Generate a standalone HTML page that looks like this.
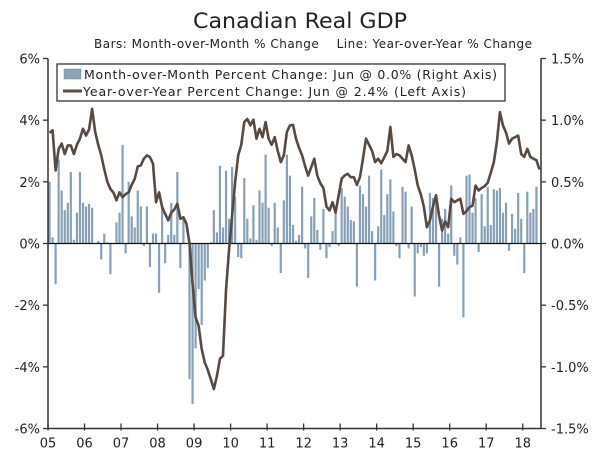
<!DOCTYPE html>
<html><head><meta charset="utf-8">
<style>
html,body{margin:0;padding:0;background:#fff;}
svg{display:block;font-family:"DejaVu Sans","Liberation Sans",sans-serif;}
</style></head>
<body>
<svg id="chart" width="600" height="457" viewBox="0 0 600 457" xmlns="http://www.w3.org/2000/svg">
<text x="193" y="28" textLength="214" lengthAdjust="spacingAndGlyphs" font-size="21" fill="#222">Canadian Real GDP</text>
<text x="94" y="48" textLength="438" font-size="12" fill="#222" xml:space="preserve">Bars: Month-over-Month % Change    Line: Year-over-Year % Change</text>
<g id="bars"></g>
<g id="axes"></g>
<g id="line"></g>
<g>
<rect x="57" y="64" width="448" height="37" fill="#fff" stroke="#333" stroke-width="1.3"/>
<rect x="64" y="69" width="17" height="10" fill="#8aa4b9" stroke="#6f8ca3" stroke-width="0.5"/>
<text x="84" y="79" textLength="413" font-size="12.5" fill="#222">Month-over-Month Percent Change: Jun @ 0.0% (Right Axis)</text>
<line x1="63" y1="91" x2="82" y2="91" stroke="#574a40" stroke-width="3"/>
<text x="83" y="96" textLength="383" font-size="12.5" fill="#222">Year-over-Year Percent Change: Jun @ 2.4% (Left Axis)</text>
</g>
</svg>
<script>
const momValues = [0.5,0.05,-0.33,0.68,0.43,0.27,0.33,0.58,0.03,0.25,0.58,0.33,
0.3,0.32,0.29,0,0.02,-0.13,0.08,0.01,-0.25,0,0.17,0.25,
0.8,-0.08,0.5,0.22,0.13,0.43,0.3,-0.02,0.3,-0.19,0.08,0.08,
-0.4,0.3,-0.16,0.07,0.33,0.07,0.58,-0.2,0.2,0,-1.1,-1.3,
-0.85,-0.37,-0.66,-0.3,-0.2,0.01,0.27,0.09,0.63,0.13,0.59,0.2,
0.62,0.38,-0.11,-0.12,0.53,0.2,0.04,0.31,0.03,0.43,0.33,0.72,
0.29,-0.02,0.33,0.13,-0.24,0.35,0.72,0.55,0.15,0.02,0.07,0.46,
-0.04,-0.28,0.22,0.37,0.11,-0.05,0.28,-0.12,-0.03,0.1,0.3,-0.02,
0.45,0.38,0.3,0.19,0.18,-0.35,0.47,0.4,0.3,0.55,0.1,-0.3,
0.14,0.6,0.23,0.4,0.52,0.26,-0.02,-0.12,0.46,0.42,-0.04,0.3,
-0.43,-0.08,-0.03,-0.1,-0.08,0.41,0.37,0.4,-0.35,0.2,0.28,0.08,
0.47,-0.1,-0.17,0.05,-0.6,0.55,0.56,0.25,0.37,-0.07,0.4,0.14,
0.46,0.15,0.44,0.43,0.45,0.25,0.33,-0.06,0.24,0.12,0.41,0.2,
-0.24,0.42,0.25,0.28,0.46,0.0];
const yoyValues = [3.59,3.67,2.37,3.07,3.24,2.9,3.18,3.18,2.9,3.2,3.4,3.72,
3.5,3.7,4.37,3.62,3.2,2.86,2.4,2.0,1.77,1.65,1.4,1.66,
1.5,1.6,1.66,1.9,2.1,2.5,2.53,2.75,2.86,2.8,2.59,1.34,
1.66,1.18,0.96,0.75,1.0,1.1,1.29,0.8,0.85,0.64,0.0,-1.3,
-2.4,-2.67,-3.42,-3.86,-4.1,-4.4,-4.72,-4.3,-3.74,-3.64,-1.5,-0.2,
0.9,2.0,2.86,3.2,3.94,4.04,3.83,4.02,3.4,3.72,3.45,3.94,
3.4,3.2,3.45,3.0,2.64,2.86,3.62,3.83,3.85,3.4,3.1,2.86,
2.5,2.2,2.48,2.75,2.2,1.95,1.8,1.2,1.07,1.34,1.0,1.56,
2.1,2.21,2.26,2.15,2.15,1.9,2.15,2.75,3.4,3.2,3.0,2.64,
2.75,2.6,2.8,3.0,3.78,2.81,2.9,2.86,2.75,2.64,3.18,2.86,
2.4,1.88,1.6,1.2,0.53,0.75,1.2,1.56,0.9,0.42,0.72,0.53,
1.45,1.34,1.4,1.45,0.96,1.05,1.18,1.23,1.88,1.72,1.8,1.86,
1.97,2.3,2.64,3.29,4.26,3.83,3.6,3.24,3.4,3.45,3.5,2.9,
2.81,3.07,2.81,2.75,2.7,2.4];
const yearLabels = ["05","06","07","08","09","10","11","12","13","14","15","16","17","18"];
const leftTicks = [6,4,2,0,-2,-4,-6];
const leftTickLabels = ["6%","4%","2%","0%","-2%","-4%","-6%"];
const rightTicks = [1.5,1.0,0.5,0.0,-0.5,-1.0,-1.5];
const rightTickLabels = ["1.5%","1.0%","0.5%","0.0%","-0.5%","-1.0%","-1.5%"];

const NS="http://www.w3.org/2000/svg";
const X0=48, X1=541, Y0=58.5, Y1=428.5;
const nMonths=162;
const monthW=(X1-X0)/nMonths;
function xMonth(i){return X0+(i+0.5)*monthW;}
function xYear(k){return X0+k*12*monthW;}
function yLeft(v){return Y0+(6-v)/12*(Y1-Y0);}
function yRight(v){return yLeft(v*4);}
function mk(tag,attrs,parent){const e=document.createElementNS(NS,tag);for(const k in attrs)e.setAttribute(k,attrs[k]);parent.appendChild(e);return e;}

const bars=document.getElementById('bars');
momValues.forEach((v,i)=>{
  const y0=yRight(0), y=yRight(v);
  const r=mk('rect',{x:xMonth(i)-1.1,y:Math.min(y,y0),width:2.2,height:Math.max(Math.abs(y-y0),0.01),fill:'#86a1b7'},bars);
  
  
});

const axes=document.getElementById('axes');
const z=mk('line',{x1:X0,x2:X1,y1:yLeft(0),y2:yLeft(0),stroke:'#111','stroke-width':1.2},axes);


const la=mk('line',{x1:X0,x2:X0,y1:Y0,y2:Y1,stroke:'#333','stroke-width':1.5},axes);


const ra=mk('line',{x1:X1,x2:X1,y1:Y0,y2:Y1,stroke:'#333','stroke-width':1.5},axes);


const ba=mk('line',{x1:X0,x2:X1,y1:Y1,y2:Y1,stroke:'#333','stroke-width':1.5},axes);


leftTicks.forEach((v,i)=>{
  const y=yLeft(v);
  mk('line',{x1:X0-5,x2:X0,y1:y,y2:y,stroke:'#333','stroke-width':1.3},axes);
  const t=mk('text',{x:X0-8,y:y+5,'text-anchor':'end','font-size':13,fill:'#222'},axes);
  t.textContent=leftTickLabels[i];
  
  
});
rightTicks.forEach((v,i)=>{
  const y=yRight(v);
  mk('line',{x1:X1,x2:X1+5,y1:y,y2:y,stroke:'#333','stroke-width':1.3},axes);
  const t=mk('text',{x:X1+10,y:y+5,'text-anchor':'start','font-size':13,fill:'#222'},axes);
  t.textContent=rightTickLabels[i];
  
  
});
yearLabels.forEach((lab,k)=>{
  const x=xYear(k);
  mk('line',{x1:x,x2:x,y1:Y1-5,y2:Y1+2,stroke:'#333','stroke-width':1.3},axes);
  const t=mk('text',{x:x,y:Y1+19,'text-anchor':'middle','font-size':13,fill:'#222'},axes);
  t.textContent=lab;
  
  
});

const lg=document.getElementById('line');
const d=yoyValues.map((v,i)=>(i?'L':'M')+xMonth(i).toFixed(2)+','+yLeft(v).toFixed(2)).join(' ');
const p=mk('path',{d:d,fill:'none',stroke:'#574a40','stroke-width':2.6,'stroke-linejoin':'round'},lg);


</script>
</body></html>
